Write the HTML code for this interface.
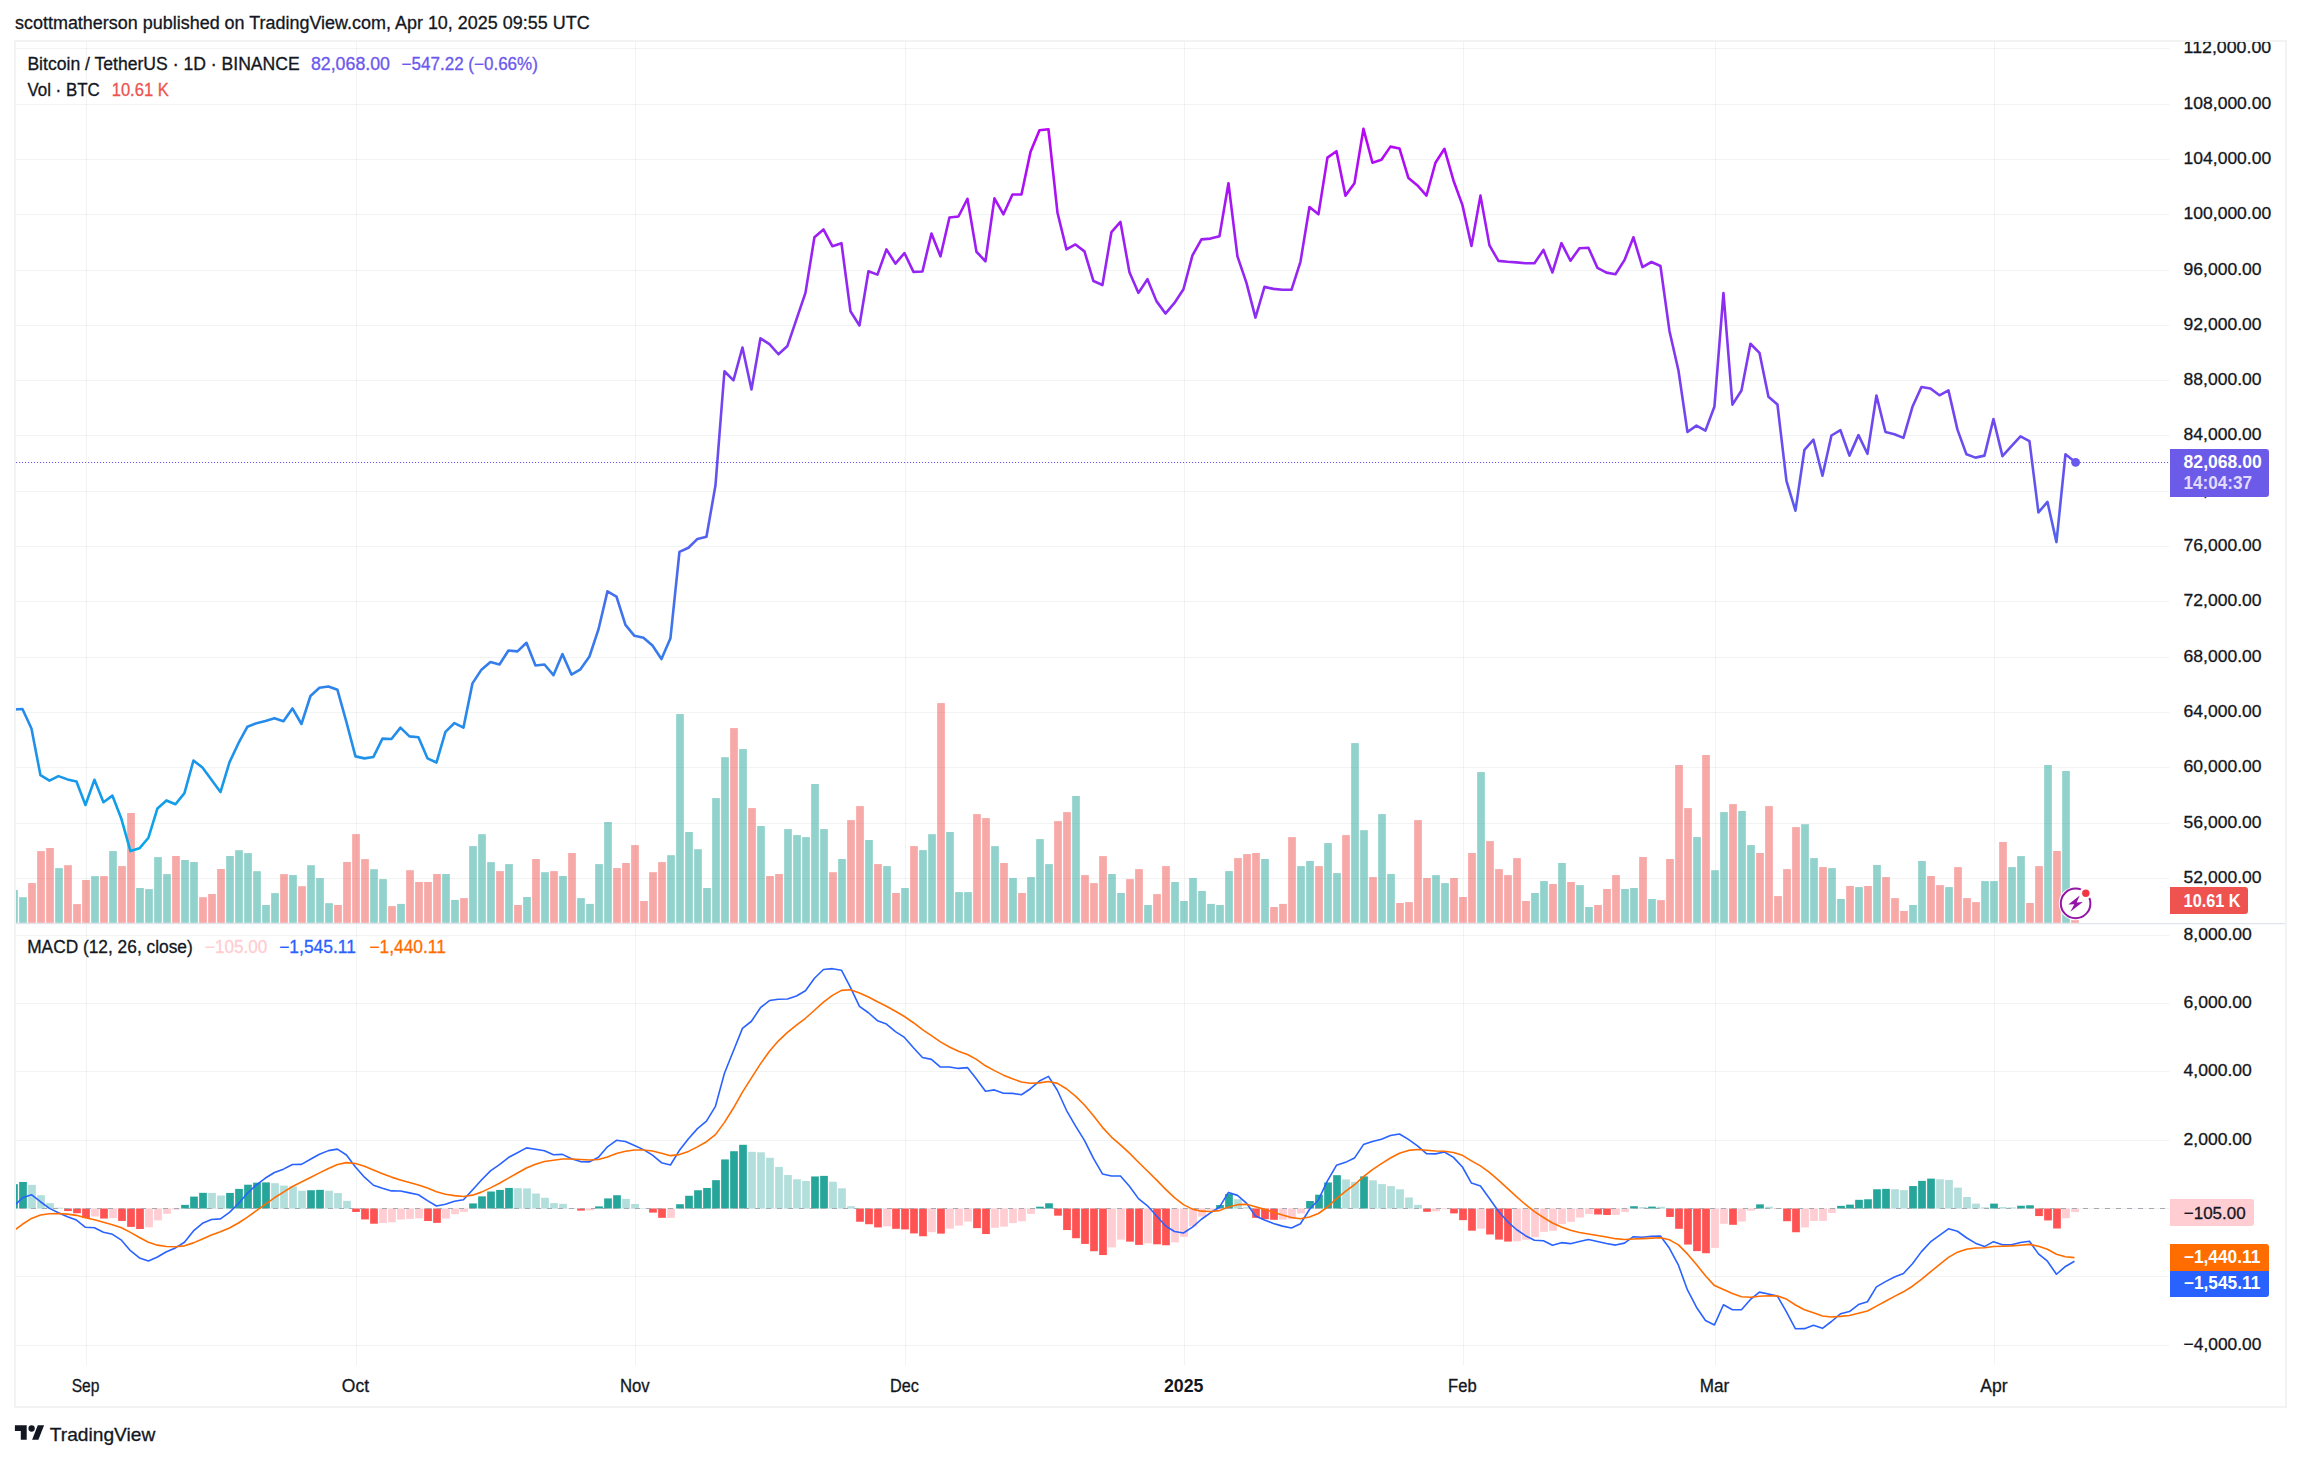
<!DOCTYPE html>
<html lang="en"><head><meta charset="utf-8"><title>BTCUSDT chart</title>
<style>html,body{margin:0;padding:0;background:#fff}body{width:2301px;height:1460px;overflow:hidden}svg{display:block}</style></head>
<body>
<svg width="2301" height="1460" viewBox="0 0 2301 1460" font-family="Liberation Sans, Arial, sans-serif">
<defs><linearGradient id="pg" gradientUnits="userSpaceOnUse" x1="0" y1="129" x2="0" y2="851"><stop offset="0" stop-color="#b905f5"/><stop offset="1" stop-color="#06a8e8"/></linearGradient>
<clipPath id="cp"><rect x="15.3" y="42" width="2153.7" height="1322.5"/></clipPath><clipPath id="ca"><rect x="2169" y="42" width="116" height="1322"/></clipPath></defs>
<rect width="2301" height="1460" fill="#fff"/>
<text x="15" y="28.8" font-size="18" fill="#131722" stroke="#131722" stroke-width="0.3" textLength="574.6" lengthAdjust="spacingAndGlyphs" >scottmatherson published on TradingView.com, Apr 10, 2025 09:55 UTC</text>
<g stroke="rgba(42,46,57,0.06)" stroke-width="1" shape-rendering="crispEdges">
<line x1="16" x2="2169.0" y1="48.5" y2="48.5"/>
<line x1="16" x2="2169.0" y1="104.5" y2="104.5"/>
<line x1="16" x2="2169.0" y1="159.5" y2="159.5"/>
<line x1="16" x2="2169.0" y1="214.5" y2="214.5"/>
<line x1="16" x2="2169.0" y1="270.5" y2="270.5"/>
<line x1="16" x2="2169.0" y1="325.5" y2="325.5"/>
<line x1="16" x2="2169.0" y1="380.5" y2="380.5"/>
<line x1="16" x2="2169.0" y1="435.5" y2="435.5"/>
<line x1="16" x2="2169.0" y1="491.5" y2="491.5"/>
<line x1="16" x2="2169.0" y1="546.5" y2="546.5"/>
<line x1="16" x2="2169.0" y1="601.5" y2="601.5"/>
<line x1="16" x2="2169.0" y1="657.5" y2="657.5"/>
<line x1="16" x2="2169.0" y1="712.5" y2="712.5"/>
<line x1="16" x2="2169.0" y1="767.5" y2="767.5"/>
<line x1="16" x2="2169.0" y1="823.5" y2="823.5"/>
<line x1="16" x2="2169.0" y1="878.5" y2="878.5"/>
<line x1="16" x2="2169.0" y1="935.5" y2="935.5"/>
<line x1="16" x2="2169.0" y1="1003.5" y2="1003.5"/>
<line x1="16" x2="2169.0" y1="1071.5" y2="1071.5"/>
<line x1="16" x2="2169.0" y1="1140.5" y2="1140.5"/>
<line x1="16" x2="2169.0" y1="1208.5" y2="1208.5"/>
<line x1="16" x2="2169.0" y1="1276.5" y2="1276.5"/>
<line x1="16" x2="2169.0" y1="1345.5" y2="1345.5"/>
<line x1="86.5" x2="86.5" y1="42" y2="1364.5"/>
<line x1="356.5" x2="356.5" y1="42" y2="1364.5"/>
<line x1="635.5" x2="635.5" y1="42" y2="1364.5"/>
<line x1="905.5" x2="905.5" y1="42" y2="1364.5"/>
<line x1="1184.5" x2="1184.5" y1="42" y2="1364.5"/>
<line x1="1463.5" x2="1463.5" y1="42" y2="1364.5"/>
<line x1="1715.5" x2="1715.5" y1="42" y2="1364.5"/>
<line x1="1994.5" x2="1994.5" y1="42" y2="1364.5"/>
</g>
<g clip-path="url(#cp)">
<rect x="10.15" y="890.0" width="7.7" height="32.8" fill="rgba(38,166,154,0.5)"/>
<rect x="19.15" y="897.2" width="7.7" height="25.6" fill="rgba(38,166,154,0.5)"/>
<rect x="28.15" y="883.1" width="7.7" height="39.7" fill="rgba(239,83,80,0.5)"/>
<rect x="37.15" y="851.1" width="7.7" height="71.7" fill="rgba(239,83,80,0.5)"/>
<rect x="46.15" y="848.0" width="7.7" height="74.8" fill="rgba(239,83,80,0.5)"/>
<rect x="55.15" y="868.1" width="7.7" height="54.7" fill="rgba(38,166,154,0.5)"/>
<rect x="64.15" y="865.2" width="7.7" height="57.6" fill="rgba(239,83,80,0.5)"/>
<rect x="73.15" y="904.1" width="7.7" height="18.7" fill="rgba(239,83,80,0.5)"/>
<rect x="82.15" y="880.0" width="7.7" height="42.8" fill="rgba(239,83,80,0.5)"/>
<rect x="91.15" y="876.1" width="7.7" height="46.7" fill="rgba(38,166,154,0.5)"/>
<rect x="100.15" y="876.1" width="7.7" height="46.7" fill="rgba(239,83,80,0.5)"/>
<rect x="109.15" y="851.1" width="7.7" height="71.7" fill="rgba(38,166,154,0.5)"/>
<rect x="118.15" y="866.1" width="7.7" height="56.7" fill="rgba(239,83,80,0.5)"/>
<rect x="127.15" y="813.0" width="7.7" height="109.8" fill="rgba(239,83,80,0.5)"/>
<rect x="136.15" y="888.0" width="7.7" height="34.8" fill="rgba(38,166,154,0.5)"/>
<rect x="145.15" y="889.1" width="7.7" height="33.7" fill="rgba(38,166,154,0.5)"/>
<rect x="154.15" y="857.1" width="7.7" height="65.7" fill="rgba(38,166,154,0.5)"/>
<rect x="163.15" y="874.1" width="7.7" height="48.7" fill="rgba(38,166,154,0.5)"/>
<rect x="172.15" y="856.0" width="7.7" height="66.8" fill="rgba(239,83,80,0.5)"/>
<rect x="181.15" y="860.0" width="7.7" height="62.8" fill="rgba(38,166,154,0.5)"/>
<rect x="190.15" y="862.0" width="7.7" height="60.8" fill="rgba(38,166,154,0.5)"/>
<rect x="199.15" y="897.2" width="7.7" height="25.6" fill="rgba(239,83,80,0.5)"/>
<rect x="208.15" y="894.0" width="7.7" height="28.8" fill="rgba(239,83,80,0.5)"/>
<rect x="217.15" y="869.0" width="7.7" height="53.8" fill="rgba(239,83,80,0.5)"/>
<rect x="226.15" y="856.0" width="7.7" height="66.8" fill="rgba(38,166,154,0.5)"/>
<rect x="235.15" y="850.2" width="7.7" height="72.6" fill="rgba(38,166,154,0.5)"/>
<rect x="244.15" y="853.1" width="7.7" height="69.7" fill="rgba(38,166,154,0.5)"/>
<rect x="253.15" y="871.2" width="7.7" height="51.6" fill="rgba(38,166,154,0.5)"/>
<rect x="262.15" y="905.0" width="7.7" height="17.8" fill="rgba(38,166,154,0.5)"/>
<rect x="271.15" y="893.1" width="7.7" height="29.7" fill="rgba(38,166,154,0.5)"/>
<rect x="280.15" y="874.1" width="7.7" height="48.7" fill="rgba(239,83,80,0.5)"/>
<rect x="289.15" y="875.0" width="7.7" height="47.8" fill="rgba(38,166,154,0.5)"/>
<rect x="298.15" y="886.2" width="7.7" height="36.6" fill="rgba(239,83,80,0.5)"/>
<rect x="307.15" y="865.2" width="7.7" height="57.6" fill="rgba(38,166,154,0.5)"/>
<rect x="316.15" y="878.1" width="7.7" height="44.7" fill="rgba(38,166,154,0.5)"/>
<rect x="325.15" y="903.2" width="7.7" height="19.6" fill="rgba(38,166,154,0.5)"/>
<rect x="334.15" y="905.0" width="7.7" height="17.8" fill="rgba(239,83,80,0.5)"/>
<rect x="343.15" y="862.0" width="7.7" height="60.8" fill="rgba(239,83,80,0.5)"/>
<rect x="352.15" y="834.1" width="7.7" height="88.7" fill="rgba(239,83,80,0.5)"/>
<rect x="361.15" y="859.1" width="7.7" height="63.7" fill="rgba(239,83,80,0.5)"/>
<rect x="370.15" y="869.2" width="7.7" height="53.6" fill="rgba(38,166,154,0.5)"/>
<rect x="379.15" y="879.1" width="7.7" height="43.7" fill="rgba(38,166,154,0.5)"/>
<rect x="388.15" y="906.1" width="7.7" height="16.7" fill="rgba(239,83,80,0.5)"/>
<rect x="397.15" y="903.9" width="7.7" height="18.9" fill="rgba(38,166,154,0.5)"/>
<rect x="406.15" y="870.2" width="7.7" height="52.6" fill="rgba(239,83,80,0.5)"/>
<rect x="415.15" y="882.0" width="7.7" height="40.8" fill="rgba(239,83,80,0.5)"/>
<rect x="424.15" y="882.0" width="7.7" height="40.8" fill="rgba(239,83,80,0.5)"/>
<rect x="433.15" y="874.0" width="7.7" height="48.8" fill="rgba(239,83,80,0.5)"/>
<rect x="442.15" y="874.0" width="7.7" height="48.8" fill="rgba(38,166,154,0.5)"/>
<rect x="451.15" y="899.9" width="7.7" height="22.9" fill="rgba(38,166,154,0.5)"/>
<rect x="460.15" y="898.1" width="7.7" height="24.7" fill="rgba(239,83,80,0.5)"/>
<rect x="469.15" y="846.1" width="7.7" height="76.7" fill="rgba(38,166,154,0.5)"/>
<rect x="478.15" y="834.2" width="7.7" height="88.6" fill="rgba(38,166,154,0.5)"/>
<rect x="487.15" y="862.1" width="7.7" height="60.7" fill="rgba(38,166,154,0.5)"/>
<rect x="496.15" y="871.1" width="7.7" height="51.7" fill="rgba(239,83,80,0.5)"/>
<rect x="505.15" y="864.1" width="7.7" height="58.7" fill="rgba(38,166,154,0.5)"/>
<rect x="514.15" y="905.0" width="7.7" height="17.8" fill="rgba(239,83,80,0.5)"/>
<rect x="523.15" y="897.0" width="7.7" height="25.8" fill="rgba(38,166,154,0.5)"/>
<rect x="532.15" y="859.0" width="7.7" height="63.8" fill="rgba(239,83,80,0.5)"/>
<rect x="541.15" y="872.2" width="7.7" height="50.6" fill="rgba(38,166,154,0.5)"/>
<rect x="550.15" y="871.1" width="7.7" height="51.7" fill="rgba(239,83,80,0.5)"/>
<rect x="559.15" y="876.0" width="7.7" height="46.8" fill="rgba(38,166,154,0.5)"/>
<rect x="568.15" y="853.0" width="7.7" height="69.8" fill="rgba(239,83,80,0.5)"/>
<rect x="577.15" y="898.1" width="7.7" height="24.7" fill="rgba(38,166,154,0.5)"/>
<rect x="586.15" y="903.9" width="7.7" height="18.9" fill="rgba(38,166,154,0.5)"/>
<rect x="595.15" y="864.1" width="7.7" height="58.7" fill="rgba(38,166,154,0.5)"/>
<rect x="604.15" y="822.0" width="7.7" height="100.8" fill="rgba(38,166,154,0.5)"/>
<rect x="613.15" y="868.1" width="7.7" height="54.7" fill="rgba(239,83,80,0.5)"/>
<rect x="622.15" y="863.0" width="7.7" height="59.8" fill="rgba(239,83,80,0.5)"/>
<rect x="631.15" y="845.1" width="7.7" height="77.7" fill="rgba(239,83,80,0.5)"/>
<rect x="640.15" y="901.0" width="7.7" height="21.8" fill="rgba(239,83,80,0.5)"/>
<rect x="649.15" y="872.2" width="7.7" height="50.6" fill="rgba(239,83,80,0.5)"/>
<rect x="658.15" y="862.1" width="7.7" height="60.7" fill="rgba(239,83,80,0.5)"/>
<rect x="667.15" y="855.2" width="7.7" height="67.6" fill="rgba(38,166,154,0.5)"/>
<rect x="676.15" y="714.1" width="7.7" height="208.7" fill="rgba(38,166,154,0.5)"/>
<rect x="685.15" y="832.0" width="7.7" height="90.8" fill="rgba(38,166,154,0.5)"/>
<rect x="694.15" y="849.2" width="7.7" height="73.6" fill="rgba(38,166,154,0.5)"/>
<rect x="703.15" y="888.0" width="7.7" height="34.8" fill="rgba(38,166,154,0.5)"/>
<rect x="712.15" y="798.1" width="7.7" height="124.7" fill="rgba(38,166,154,0.5)"/>
<rect x="721.15" y="757.2" width="7.7" height="165.6" fill="rgba(38,166,154,0.5)"/>
<rect x="730.15" y="728.1" width="7.7" height="194.7" fill="rgba(239,83,80,0.5)"/>
<rect x="739.15" y="749.1" width="7.7" height="173.7" fill="rgba(38,166,154,0.5)"/>
<rect x="748.15" y="808.1" width="7.7" height="114.7" fill="rgba(239,83,80,0.5)"/>
<rect x="757.15" y="826.0" width="7.7" height="96.8" fill="rgba(38,166,154,0.5)"/>
<rect x="766.15" y="876.0" width="7.7" height="46.8" fill="rgba(239,83,80,0.5)"/>
<rect x="775.15" y="874.0" width="7.7" height="48.8" fill="rgba(239,83,80,0.5)"/>
<rect x="784.15" y="829.1" width="7.7" height="93.7" fill="rgba(38,166,154,0.5)"/>
<rect x="793.15" y="835.1" width="7.7" height="87.7" fill="rgba(38,166,154,0.5)"/>
<rect x="802.15" y="837.1" width="7.7" height="85.7" fill="rgba(38,166,154,0.5)"/>
<rect x="811.15" y="784.0" width="7.7" height="138.8" fill="rgba(38,166,154,0.5)"/>
<rect x="820.15" y="829.1" width="7.7" height="93.7" fill="rgba(38,166,154,0.5)"/>
<rect x="829.15" y="872.2" width="7.7" height="50.6" fill="rgba(239,83,80,0.5)"/>
<rect x="838.15" y="859.0" width="7.7" height="63.8" fill="rgba(38,166,154,0.5)"/>
<rect x="847.15" y="820.1" width="7.7" height="102.7" fill="rgba(239,83,80,0.5)"/>
<rect x="856.15" y="806.1" width="7.7" height="116.7" fill="rgba(239,83,80,0.5)"/>
<rect x="865.15" y="840.0" width="7.7" height="82.8" fill="rgba(38,166,154,0.5)"/>
<rect x="874.15" y="864.1" width="7.7" height="58.7" fill="rgba(239,83,80,0.5)"/>
<rect x="883.15" y="866.1" width="7.7" height="56.7" fill="rgba(38,166,154,0.5)"/>
<rect x="892.15" y="893.0" width="7.7" height="29.8" fill="rgba(239,83,80,0.5)"/>
<rect x="901.15" y="888.0" width="7.7" height="34.8" fill="rgba(38,166,154,0.5)"/>
<rect x="910.15" y="846.1" width="7.7" height="76.7" fill="rgba(239,83,80,0.5)"/>
<rect x="919.15" y="850.1" width="7.7" height="72.7" fill="rgba(38,166,154,0.5)"/>
<rect x="928.15" y="834.2" width="7.7" height="88.6" fill="rgba(38,166,154,0.5)"/>
<rect x="937.15" y="703.1" width="7.7" height="219.7" fill="rgba(239,83,80,0.5)"/>
<rect x="946.15" y="832.0" width="7.7" height="90.8" fill="rgba(38,166,154,0.5)"/>
<rect x="955.15" y="892.1" width="7.7" height="30.7" fill="rgba(38,166,154,0.5)"/>
<rect x="964.15" y="892.1" width="7.7" height="30.7" fill="rgba(38,166,154,0.5)"/>
<rect x="973.15" y="814.1" width="7.7" height="108.7" fill="rgba(239,83,80,0.5)"/>
<rect x="982.15" y="818.1" width="7.7" height="104.7" fill="rgba(239,83,80,0.5)"/>
<rect x="991.15" y="846.1" width="7.7" height="76.7" fill="rgba(38,166,154,0.5)"/>
<rect x="1000.15" y="863.0" width="7.7" height="59.8" fill="rgba(239,83,80,0.5)"/>
<rect x="1009.15" y="878.0" width="7.7" height="44.8" fill="rgba(38,166,154,0.5)"/>
<rect x="1018.15" y="893.0" width="7.7" height="29.8" fill="rgba(239,83,80,0.5)"/>
<rect x="1027.15" y="877.1" width="7.7" height="45.7" fill="rgba(38,166,154,0.5)"/>
<rect x="1036.15" y="839.1" width="7.7" height="83.7" fill="rgba(38,166,154,0.5)"/>
<rect x="1045.15" y="864.1" width="7.7" height="58.7" fill="rgba(38,166,154,0.5)"/>
<rect x="1054.15" y="821.1" width="7.7" height="101.7" fill="rgba(239,83,80,0.5)"/>
<rect x="1063.15" y="812.1" width="7.7" height="110.7" fill="rgba(239,83,80,0.5)"/>
<rect x="1072.15" y="796.0" width="7.7" height="126.8" fill="rgba(38,166,154,0.5)"/>
<rect x="1081.15" y="875.1" width="7.7" height="47.7" fill="rgba(239,83,80,0.5)"/>
<rect x="1090.15" y="883.1" width="7.7" height="39.7" fill="rgba(239,83,80,0.5)"/>
<rect x="1099.15" y="856.1" width="7.7" height="66.7" fill="rgba(239,83,80,0.5)"/>
<rect x="1108.15" y="874.0" width="7.7" height="48.8" fill="rgba(38,166,154,0.5)"/>
<rect x="1117.15" y="893.0" width="7.7" height="29.8" fill="rgba(38,166,154,0.5)"/>
<rect x="1126.15" y="879.1" width="7.7" height="43.7" fill="rgba(239,83,80,0.5)"/>
<rect x="1135.15" y="869.1" width="7.7" height="53.7" fill="rgba(239,83,80,0.5)"/>
<rect x="1144.15" y="905.0" width="7.7" height="17.8" fill="rgba(38,166,154,0.5)"/>
<rect x="1153.15" y="894.1" width="7.7" height="28.7" fill="rgba(239,83,80,0.5)"/>
<rect x="1162.15" y="866.1" width="7.7" height="56.7" fill="rgba(239,83,80,0.5)"/>
<rect x="1171.15" y="882.0" width="7.7" height="40.8" fill="rgba(38,166,154,0.5)"/>
<rect x="1180.15" y="901.0" width="7.7" height="21.8" fill="rgba(38,166,154,0.5)"/>
<rect x="1189.15" y="878.0" width="7.7" height="44.8" fill="rgba(38,166,154,0.5)"/>
<rect x="1198.15" y="891.0" width="7.7" height="31.8" fill="rgba(38,166,154,0.5)"/>
<rect x="1207.15" y="903.9" width="7.7" height="18.9" fill="rgba(38,166,154,0.5)"/>
<rect x="1216.15" y="905.0" width="7.7" height="17.8" fill="rgba(38,166,154,0.5)"/>
<rect x="1225.15" y="871.1" width="7.7" height="51.7" fill="rgba(38,166,154,0.5)"/>
<rect x="1234.15" y="858.1" width="7.7" height="64.7" fill="rgba(239,83,80,0.5)"/>
<rect x="1243.15" y="854.1" width="7.7" height="68.7" fill="rgba(239,83,80,0.5)"/>
<rect x="1252.15" y="853.0" width="7.7" height="69.8" fill="rgba(239,83,80,0.5)"/>
<rect x="1261.15" y="859.0" width="7.7" height="63.8" fill="rgba(38,166,154,0.5)"/>
<rect x="1270.15" y="907.0" width="7.7" height="15.8" fill="rgba(239,83,80,0.5)"/>
<rect x="1279.15" y="903.9" width="7.7" height="18.9" fill="rgba(239,83,80,0.5)"/>
<rect x="1288.15" y="837.1" width="7.7" height="85.7" fill="rgba(239,83,80,0.5)"/>
<rect x="1297.15" y="866.1" width="7.7" height="56.7" fill="rgba(38,166,154,0.5)"/>
<rect x="1306.15" y="861.0" width="7.7" height="61.8" fill="rgba(38,166,154,0.5)"/>
<rect x="1315.15" y="866.1" width="7.7" height="56.7" fill="rgba(239,83,80,0.5)"/>
<rect x="1324.15" y="843.1" width="7.7" height="79.7" fill="rgba(38,166,154,0.5)"/>
<rect x="1333.15" y="873.1" width="7.7" height="49.7" fill="rgba(38,166,154,0.5)"/>
<rect x="1342.15" y="835.1" width="7.7" height="87.7" fill="rgba(239,83,80,0.5)"/>
<rect x="1351.15" y="743.1" width="7.7" height="179.7" fill="rgba(38,166,154,0.5)"/>
<rect x="1360.15" y="830.2" width="7.7" height="92.6" fill="rgba(38,166,154,0.5)"/>
<rect x="1369.15" y="877.1" width="7.7" height="45.7" fill="rgba(239,83,80,0.5)"/>
<rect x="1378.15" y="814.1" width="7.7" height="108.7" fill="rgba(38,166,154,0.5)"/>
<rect x="1387.15" y="874.0" width="7.7" height="48.8" fill="rgba(38,166,154,0.5)"/>
<rect x="1396.15" y="903.0" width="7.7" height="19.8" fill="rgba(239,83,80,0.5)"/>
<rect x="1405.15" y="902.1" width="7.7" height="20.7" fill="rgba(239,83,80,0.5)"/>
<rect x="1414.15" y="820.1" width="7.7" height="102.7" fill="rgba(239,83,80,0.5)"/>
<rect x="1423.15" y="878.0" width="7.7" height="44.8" fill="rgba(239,83,80,0.5)"/>
<rect x="1432.15" y="875.1" width="7.7" height="47.7" fill="rgba(38,166,154,0.5)"/>
<rect x="1441.15" y="883.1" width="7.7" height="39.7" fill="rgba(38,166,154,0.5)"/>
<rect x="1450.15" y="878.0" width="7.7" height="44.8" fill="rgba(239,83,80,0.5)"/>
<rect x="1459.15" y="897.0" width="7.7" height="25.8" fill="rgba(239,83,80,0.5)"/>
<rect x="1468.15" y="853.0" width="7.7" height="69.8" fill="rgba(239,83,80,0.5)"/>
<rect x="1477.15" y="772.1" width="7.7" height="150.7" fill="rgba(38,166,154,0.5)"/>
<rect x="1486.15" y="841.1" width="7.7" height="81.7" fill="rgba(239,83,80,0.5)"/>
<rect x="1495.15" y="869.1" width="7.7" height="53.7" fill="rgba(239,83,80,0.5)"/>
<rect x="1504.15" y="875.1" width="7.7" height="47.7" fill="rgba(239,83,80,0.5)"/>
<rect x="1513.15" y="858.1" width="7.7" height="64.7" fill="rgba(239,83,80,0.5)"/>
<rect x="1522.15" y="901.0" width="7.7" height="21.8" fill="rgba(239,83,80,0.5)"/>
<rect x="1531.15" y="893.0" width="7.7" height="29.8" fill="rgba(38,166,154,0.5)"/>
<rect x="1540.15" y="881.1" width="7.7" height="41.7" fill="rgba(38,166,154,0.5)"/>
<rect x="1549.15" y="884.0" width="7.7" height="38.8" fill="rgba(239,83,80,0.5)"/>
<rect x="1558.15" y="863.0" width="7.7" height="59.8" fill="rgba(38,166,154,0.5)"/>
<rect x="1567.15" y="882.0" width="7.7" height="40.8" fill="rgba(239,83,80,0.5)"/>
<rect x="1576.15" y="885.1" width="7.7" height="37.7" fill="rgba(38,166,154,0.5)"/>
<rect x="1585.15" y="907.0" width="7.7" height="15.8" fill="rgba(38,166,154,0.5)"/>
<rect x="1594.15" y="905.0" width="7.7" height="17.8" fill="rgba(239,83,80,0.5)"/>
<rect x="1603.15" y="889.0" width="7.7" height="33.8" fill="rgba(239,83,80,0.5)"/>
<rect x="1612.15" y="875.1" width="7.7" height="47.7" fill="rgba(239,83,80,0.5)"/>
<rect x="1621.15" y="889.0" width="7.7" height="33.8" fill="rgba(38,166,154,0.5)"/>
<rect x="1630.15" y="888.0" width="7.7" height="34.8" fill="rgba(38,166,154,0.5)"/>
<rect x="1639.15" y="857.0" width="7.7" height="65.8" fill="rgba(239,83,80,0.5)"/>
<rect x="1648.15" y="899.0" width="7.7" height="23.8" fill="rgba(38,166,154,0.5)"/>
<rect x="1657.15" y="900.1" width="7.7" height="22.7" fill="rgba(239,83,80,0.5)"/>
<rect x="1666.15" y="859.0" width="7.7" height="63.8" fill="rgba(239,83,80,0.5)"/>
<rect x="1675.15" y="765.0" width="7.7" height="157.8" fill="rgba(239,83,80,0.5)"/>
<rect x="1684.15" y="808.1" width="7.7" height="114.7" fill="rgba(239,83,80,0.5)"/>
<rect x="1693.15" y="837.1" width="7.7" height="85.7" fill="rgba(38,166,154,0.5)"/>
<rect x="1702.15" y="755.0" width="7.7" height="167.8" fill="rgba(239,83,80,0.5)"/>
<rect x="1711.15" y="870.2" width="7.7" height="52.6" fill="rgba(38,166,154,0.5)"/>
<rect x="1720.15" y="812.1" width="7.7" height="110.7" fill="rgba(38,166,154,0.5)"/>
<rect x="1729.15" y="804.1" width="7.7" height="118.7" fill="rgba(239,83,80,0.5)"/>
<rect x="1738.15" y="811.0" width="7.7" height="111.8" fill="rgba(38,166,154,0.5)"/>
<rect x="1747.15" y="845.1" width="7.7" height="77.7" fill="rgba(38,166,154,0.5)"/>
<rect x="1756.15" y="853.0" width="7.7" height="69.8" fill="rgba(239,83,80,0.5)"/>
<rect x="1765.15" y="806.1" width="7.7" height="116.7" fill="rgba(239,83,80,0.5)"/>
<rect x="1774.15" y="896.1" width="7.7" height="26.7" fill="rgba(239,83,80,0.5)"/>
<rect x="1783.15" y="869.1" width="7.7" height="53.7" fill="rgba(239,83,80,0.5)"/>
<rect x="1792.15" y="827.1" width="7.7" height="95.7" fill="rgba(239,83,80,0.5)"/>
<rect x="1801.15" y="824.2" width="7.7" height="98.6" fill="rgba(38,166,154,0.5)"/>
<rect x="1810.15" y="858.1" width="7.7" height="64.7" fill="rgba(38,166,154,0.5)"/>
<rect x="1819.15" y="867.1" width="7.7" height="55.7" fill="rgba(239,83,80,0.5)"/>
<rect x="1828.15" y="868.1" width="7.7" height="54.7" fill="rgba(38,166,154,0.5)"/>
<rect x="1837.15" y="899.0" width="7.7" height="23.8" fill="rgba(38,166,154,0.5)"/>
<rect x="1846.15" y="886.0" width="7.7" height="36.8" fill="rgba(239,83,80,0.5)"/>
<rect x="1855.15" y="887.1" width="7.7" height="35.7" fill="rgba(38,166,154,0.5)"/>
<rect x="1864.15" y="886.0" width="7.7" height="36.8" fill="rgba(239,83,80,0.5)"/>
<rect x="1873.15" y="865.0" width="7.7" height="57.8" fill="rgba(38,166,154,0.5)"/>
<rect x="1882.15" y="877.1" width="7.7" height="45.7" fill="rgba(239,83,80,0.5)"/>
<rect x="1891.15" y="898.1" width="7.7" height="24.7" fill="rgba(239,83,80,0.5)"/>
<rect x="1900.15" y="911.0" width="7.7" height="11.8" fill="rgba(239,83,80,0.5)"/>
<rect x="1909.15" y="905.0" width="7.7" height="17.8" fill="rgba(38,166,154,0.5)"/>
<rect x="1918.15" y="861.0" width="7.7" height="61.8" fill="rgba(38,166,154,0.5)"/>
<rect x="1927.15" y="876.0" width="7.7" height="46.8" fill="rgba(239,83,80,0.5)"/>
<rect x="1936.15" y="885.1" width="7.7" height="37.7" fill="rgba(239,83,80,0.5)"/>
<rect x="1945.15" y="887.1" width="7.7" height="35.7" fill="rgba(38,166,154,0.5)"/>
<rect x="1954.15" y="867.1" width="7.7" height="55.7" fill="rgba(239,83,80,0.5)"/>
<rect x="1963.15" y="898.1" width="7.7" height="24.7" fill="rgba(239,83,80,0.5)"/>
<rect x="1972.15" y="902.1" width="7.7" height="20.7" fill="rgba(239,83,80,0.5)"/>
<rect x="1981.15" y="881.1" width="7.7" height="41.7" fill="rgba(38,166,154,0.5)"/>
<rect x="1990.15" y="881.1" width="7.7" height="41.7" fill="rgba(38,166,154,0.5)"/>
<rect x="1999.15" y="842.0" width="7.7" height="80.8" fill="rgba(239,83,80,0.5)"/>
<rect x="2008.15" y="867.1" width="7.7" height="55.7" fill="rgba(38,166,154,0.5)"/>
<rect x="2017.15" y="856.1" width="7.7" height="66.7" fill="rgba(38,166,154,0.5)"/>
<rect x="2026.15" y="903.0" width="7.7" height="19.8" fill="rgba(239,83,80,0.5)"/>
<rect x="2035.15" y="866.1" width="7.7" height="56.7" fill="rgba(239,83,80,0.5)"/>
<rect x="2044.15" y="765.0" width="7.7" height="157.8" fill="rgba(38,166,154,0.5)"/>
<rect x="2053.15" y="851.0" width="7.7" height="71.8" fill="rgba(239,83,80,0.5)"/>
<rect x="2062.15" y="771.0" width="7.7" height="151.8" fill="rgba(38,166,154,0.5)"/>
<rect x="2071.15" y="920.1" width="7.7" height="2.7" fill="rgba(239,83,80,0.5)"/>
<line x1="16" x2="2169.0" y1="462.5" y2="462.5" stroke="#6b58ed" stroke-width="1.1" stroke-dasharray="1.1 1.9"/>
<polyline points="13.45,709.55 22.45,709.00 31.45,728.57 40.45,775.19 49.45,780.68 58.45,776.11 67.45,779.40 76.45,781.59 85.45,805.00 94.45,779.77 103.45,802.26 112.45,795.67 121.45,819.08 130.45,851.08 139.45,848.33 148.45,837.73 157.45,808.47 166.45,800.43 175.45,804.27 184.45,793.11 193.45,760.57 202.45,767.52 211.45,779.77 220.45,792.02 229.45,762.40 238.45,743.20 247.45,726.74 256.45,723.27 265.45,721.07 274.45,718.15 283.45,721.25 292.45,708.45 301.45,724.00 310.45,696.02 319.45,687.79 328.45,686.51 337.45,689.80 346.45,722.17 355.45,756.36 364.45,758.37 373.45,756.91 382.45,738.62 391.45,738.99 400.45,727.62 409.45,736.39 418.45,737.31 427.45,758.33 436.45,762.54 445.45,731.82 454.45,723.04 463.45,727.62 472.45,683.37 481.45,669.65 490.45,661.97 499.45,664.53 508.45,650.45 517.45,651.37 526.45,642.77 535.45,665.45 544.45,664.53 553.45,675.14 562.45,654.11 571.45,674.59 580.45,669.29 589.45,656.49 598.45,629.43 607.45,591.39 616.45,596.51 625.45,624.85 634.45,635.83 643.45,637.65 652.45,645.52 661.45,659.05 670.45,638.20 679.45,551.91 688.45,547.70 697.45,538.93 706.45,536.73 715.45,485.53 724.45,371.25 733.45,380.40 742.45,347.48 751.45,389.54 760.45,338.34 769.45,344.19 778.45,354.25 787.45,345.93 796.45,319.42 805.45,292.91 814.45,237.14 823.45,229.46 832.45,246.28 841.45,243.17 850.45,311.19 859.45,325.45 868.45,271.33 877.45,274.62 886.45,249.39 895.45,263.65 904.45,253.04 913.45,271.88 922.45,271.51 931.45,233.48 940.45,256.34 949.45,217.57 958.45,216.47 967.45,198.74 976.45,251.76 985.45,261.27 994.45,198.37 1003.45,214.28 1012.45,194.53 1021.45,194.53 1030.45,152.11 1039.45,130.17 1048.45,129.26 1057.45,212.45 1066.45,249.39 1075.45,244.45 1084.45,251.40 1093.45,281.02 1102.45,285.04 1111.45,232.02 1120.45,221.96 1129.45,272.24 1138.45,292.91 1147.45,279.19 1156.45,301.13 1165.45,313.57 1174.45,302.96 1183.45,289.25 1192.45,255.42 1201.45,239.33 1210.45,238.60 1219.45,236.22 1228.45,183.20 1237.45,256.34 1246.45,282.85 1255.45,317.59 1264.45,286.87 1273.45,288.88 1282.45,289.80 1291.45,289.80 1300.45,261.82 1309.45,206.97 1318.45,214.28 1327.45,157.60 1336.45,151.20 1345.45,195.63 1354.45,183.20 1363.45,128.89 1372.45,162.72 1381.45,159.79 1390.45,146.63 1399.45,148.45 1408.45,178.08 1417.45,185.39 1426.45,195.63 1435.45,162.72 1444.45,148.82 1453.45,180.45 1462.45,205.14 1471.45,245.91 1480.45,195.63 1489.45,245.36 1498.45,260.91 1507.45,261.82 1516.45,262.37 1525.45,263.28 1534.45,263.28 1543.45,249.94 1552.45,272.43 1561.45,243.17 1570.45,260.72 1579.45,248.28 1588.45,247.74 1597.45,267.85 1606.45,272.60 1615.45,274.25 1624.45,260.17 1633.45,237.31 1642.45,267.12 1651.45,262.00 1660.45,266.02 1669.45,330.93 1678.45,370.43 1687.45,432.05 1696.45,425.65 1705.45,430.59 1714.45,406.45 1723.45,293.08 1732.45,404.62 1741.45,390.54 1750.45,343.73 1759.45,352.86 1768.45,396.74 1777.45,404.60 1786.45,480.85 1795.45,510.65 1804.45,449.77 1813.45,439.71 1822.45,475.73 1831.45,435.50 1840.45,430.20 1849.45,455.62 1858.45,435.14 1867.45,453.79 1876.45,395.46 1885.45,432.03 1894.45,434.22 1903.45,437.88 1912.45,406.80 1921.45,387.05 1930.45,388.51 1939.45,395.28 1948.45,390.34 1957.45,429.65 1966.45,454.34 1975.45,457.63 1984.45,455.62 1993.45,419.05 2002.45,456.17 2011.45,446.11 2020.45,436.42 2029.45,441.17 2038.45,512.48 2047.45,501.88 2056.45,542.10 2065.45,454.34 2075.5,462.3" fill="none" stroke="url(#pg)" stroke-width="2.6" stroke-linejoin="round" stroke-linecap="round"/>
<circle cx="2075.6" cy="462.3" r="4.4" fill="#6b58ed"/>
<rect x="10.15" y="1184.19" width="7.7" height="24.31" fill="#26a69a"/>
<rect x="19.15" y="1181.94" width="7.7" height="26.56" fill="#26a69a"/>
<rect x="28.15" y="1184.86" width="7.7" height="23.64" fill="#b2dfdb"/>
<rect x="37.15" y="1195.19" width="7.7" height="13.31" fill="#b2dfdb"/>
<rect x="46.15" y="1203.17" width="7.7" height="5.33" fill="#b2dfdb"/>
<rect x="55.15" y="1207.68" width="7.7" height="0.82" fill="#b2dfdb"/>
<rect x="64.15" y="1208.50" width="7.7" height="2.52" fill="#ff5252"/>
<rect x="73.15" y="1208.50" width="7.7" height="4.78" fill="#ff5252"/>
<rect x="82.15" y="1208.50" width="7.7" height="9.57" fill="#ff5252"/>
<rect x="91.15" y="1208.50" width="7.7" height="8.01" fill="#ffcdd2"/>
<rect x="100.15" y="1208.50" width="7.7" height="10.05" fill="#ff5252"/>
<rect x="109.15" y="1208.50" width="7.7" height="9.65" fill="#ffcdd2"/>
<rect x="118.15" y="1208.50" width="7.7" height="12.42" fill="#ff5252"/>
<rect x="127.15" y="1208.50" width="7.7" height="18.38" fill="#ff5252"/>
<rect x="136.15" y="1208.50" width="7.7" height="20.50" fill="#ff5252"/>
<rect x="145.15" y="1208.50" width="7.7" height="18.82" fill="#ffcdd2"/>
<rect x="154.15" y="1208.50" width="7.7" height="11.86" fill="#ffcdd2"/>
<rect x="163.15" y="1208.50" width="7.7" height="5.28" fill="#ffcdd2"/>
<rect x="172.15" y="1208.50" width="7.7" height="1.13" fill="#ffcdd2"/>
<rect x="181.15" y="1204.87" width="7.7" height="3.63" fill="#26a69a"/>
<rect x="190.15" y="1196.60" width="7.7" height="11.90" fill="#26a69a"/>
<rect x="199.15" y="1192.83" width="7.7" height="15.67" fill="#26a69a"/>
<rect x="208.15" y="1192.94" width="7.7" height="15.56" fill="#b2dfdb"/>
<rect x="217.15" y="1195.51" width="7.7" height="12.99" fill="#b2dfdb"/>
<rect x="226.15" y="1192.92" width="7.7" height="15.58" fill="#26a69a"/>
<rect x="235.15" y="1188.91" width="7.7" height="19.59" fill="#26a69a"/>
<rect x="244.15" y="1184.70" width="7.7" height="23.80" fill="#26a69a"/>
<rect x="253.15" y="1182.69" width="7.7" height="25.81" fill="#26a69a"/>
<rect x="262.15" y="1182.41" width="7.7" height="26.09" fill="#26a69a"/>
<rect x="271.15" y="1183.18" width="7.7" height="25.32" fill="#b2dfdb"/>
<rect x="280.15" y="1185.58" width="7.7" height="22.92" fill="#b2dfdb"/>
<rect x="289.15" y="1186.42" width="7.7" height="22.08" fill="#b2dfdb"/>
<rect x="298.15" y="1190.75" width="7.7" height="17.75" fill="#b2dfdb"/>
<rect x="307.15" y="1190.23" width="7.7" height="18.27" fill="#26a69a"/>
<rect x="316.15" y="1189.85" width="7.7" height="18.65" fill="#26a69a"/>
<rect x="325.15" y="1190.71" width="7.7" height="17.79" fill="#b2dfdb"/>
<rect x="334.15" y="1193.06" width="7.7" height="15.44" fill="#b2dfdb"/>
<rect x="343.15" y="1200.85" width="7.7" height="7.65" fill="#b2dfdb"/>
<rect x="352.15" y="1208.50" width="7.7" height="3.44" fill="#ff5252"/>
<rect x="361.15" y="1208.50" width="7.7" height="10.94" fill="#ff5252"/>
<rect x="370.15" y="1208.50" width="7.7" height="15.22" fill="#ff5252"/>
<rect x="379.15" y="1208.50" width="7.7" height="14.57" fill="#ffcdd2"/>
<rect x="388.15" y="1208.50" width="7.7" height="13.78" fill="#ffcdd2"/>
<rect x="397.15" y="1208.50" width="7.7" height="11.05" fill="#ffcdd2"/>
<rect x="406.15" y="1208.50" width="7.7" height="10.41" fill="#ffcdd2"/>
<rect x="415.15" y="1208.50" width="7.7" height="9.84" fill="#ffcdd2"/>
<rect x="424.15" y="1208.50" width="7.7" height="12.50" fill="#ff5252"/>
<rect x="433.15" y="1208.50" width="7.7" height="14.35" fill="#ff5252"/>
<rect x="442.15" y="1208.50" width="7.7" height="10.08" fill="#ffcdd2"/>
<rect x="451.15" y="1208.50" width="7.7" height="5.62" fill="#ffcdd2"/>
<rect x="460.15" y="1208.50" width="7.7" height="3.37" fill="#ffcdd2"/>
<rect x="469.15" y="1203.42" width="7.7" height="5.08" fill="#26a69a"/>
<rect x="478.15" y="1196.35" width="7.7" height="12.15" fill="#26a69a"/>
<rect x="487.15" y="1191.49" width="7.7" height="17.01" fill="#26a69a"/>
<rect x="496.15" y="1189.93" width="7.7" height="18.57" fill="#26a69a"/>
<rect x="505.15" y="1187.94" width="7.7" height="20.56" fill="#26a69a"/>
<rect x="514.15" y="1188.19" width="7.7" height="20.31" fill="#b2dfdb"/>
<rect x="523.15" y="1188.38" width="7.7" height="20.12" fill="#b2dfdb"/>
<rect x="532.15" y="1193.50" width="7.7" height="15.00" fill="#b2dfdb"/>
<rect x="541.15" y="1197.75" width="7.7" height="10.75" fill="#b2dfdb"/>
<rect x="550.15" y="1203.08" width="7.7" height="5.42" fill="#b2dfdb"/>
<rect x="559.15" y="1203.83" width="7.7" height="4.67" fill="#b2dfdb"/>
<rect x="568.15" y="1208.22" width="7.7" height="0.28" fill="#b2dfdb"/>
<rect x="577.15" y="1208.50" width="7.7" height="2.11" fill="#ff5252"/>
<rect x="586.15" y="1208.50" width="7.7" height="1.92" fill="#ffcdd2"/>
<rect x="595.15" y="1206.38" width="7.7" height="2.12" fill="#26a69a"/>
<rect x="604.15" y="1198.42" width="7.7" height="10.08" fill="#26a69a"/>
<rect x="613.15" y="1195.23" width="7.7" height="13.27" fill="#26a69a"/>
<rect x="622.15" y="1198.89" width="7.7" height="9.61" fill="#b2dfdb"/>
<rect x="631.15" y="1203.95" width="7.7" height="4.55" fill="#b2dfdb"/>
<rect x="640.15" y="1208.17" width="7.7" height="0.33" fill="#b2dfdb"/>
<rect x="649.15" y="1208.50" width="7.7" height="4.11" fill="#ff5252"/>
<rect x="658.15" y="1208.50" width="7.7" height="9.33" fill="#ff5252"/>
<rect x="667.15" y="1208.50" width="7.7" height="9.34" fill="#ffcdd2"/>
<rect x="676.15" y="1204.23" width="7.7" height="4.27" fill="#26a69a"/>
<rect x="685.15" y="1195.76" width="7.7" height="12.74" fill="#26a69a"/>
<rect x="694.15" y="1190.25" width="7.7" height="18.25" fill="#26a69a"/>
<rect x="703.15" y="1187.97" width="7.7" height="20.53" fill="#26a69a"/>
<rect x="712.15" y="1180.16" width="7.7" height="28.34" fill="#26a69a"/>
<rect x="721.15" y="1159.42" width="7.7" height="49.08" fill="#26a69a"/>
<rect x="730.15" y="1151.21" width="7.7" height="57.29" fill="#26a69a"/>
<rect x="739.15" y="1144.80" width="7.7" height="63.70" fill="#26a69a"/>
<rect x="748.15" y="1151.81" width="7.7" height="56.69" fill="#b2dfdb"/>
<rect x="757.15" y="1152.30" width="7.7" height="56.20" fill="#b2dfdb"/>
<rect x="766.15" y="1157.79" width="7.7" height="50.71" fill="#b2dfdb"/>
<rect x="775.15" y="1166.91" width="7.7" height="41.59" fill="#b2dfdb"/>
<rect x="784.15" y="1175.03" width="7.7" height="33.47" fill="#b2dfdb"/>
<rect x="793.15" y="1179.29" width="7.7" height="29.21" fill="#b2dfdb"/>
<rect x="802.15" y="1180.99" width="7.7" height="27.51" fill="#b2dfdb"/>
<rect x="811.15" y="1176.45" width="7.7" height="32.05" fill="#26a69a"/>
<rect x="820.15" y="1175.87" width="7.7" height="32.63" fill="#26a69a"/>
<rect x="829.15" y="1181.76" width="7.7" height="26.74" fill="#b2dfdb"/>
<rect x="838.15" y="1188.30" width="7.7" height="20.20" fill="#b2dfdb"/>
<rect x="847.15" y="1206.17" width="7.7" height="2.33" fill="#b2dfdb"/>
<rect x="856.15" y="1208.50" width="7.7" height="13.23" fill="#ff5252"/>
<rect x="865.15" y="1208.50" width="7.7" height="15.73" fill="#ff5252"/>
<rect x="874.15" y="1208.50" width="7.7" height="18.91" fill="#ff5252"/>
<rect x="883.15" y="1208.50" width="7.7" height="17.83" fill="#ffcdd2"/>
<rect x="892.15" y="1208.50" width="7.7" height="20.30" fill="#ff5252"/>
<rect x="901.15" y="1208.50" width="7.7" height="20.92" fill="#ff5252"/>
<rect x="910.15" y="1208.50" width="7.7" height="24.93" fill="#ff5252"/>
<rect x="919.15" y="1208.50" width="7.7" height="27.77" fill="#ff5252"/>
<rect x="928.15" y="1208.50" width="7.7" height="23.73" fill="#ffcdd2"/>
<rect x="937.15" y="1208.50" width="7.7" height="25.13" fill="#ff5252"/>
<rect x="946.15" y="1208.50" width="7.7" height="20.10" fill="#ffcdd2"/>
<rect x="955.15" y="1208.50" width="7.7" height="17.20" fill="#ffcdd2"/>
<rect x="964.15" y="1208.50" width="7.7" height="13.12" fill="#ffcdd2"/>
<rect x="973.15" y="1208.50" width="7.7" height="19.63" fill="#ff5252"/>
<rect x="982.15" y="1208.50" width="7.7" height="25.54" fill="#ff5252"/>
<rect x="991.15" y="1208.50" width="7.7" height="19.29" fill="#ffcdd2"/>
<rect x="1000.15" y="1208.50" width="7.7" height="18.13" fill="#ffcdd2"/>
<rect x="1009.15" y="1208.50" width="7.7" height="14.56" fill="#ffcdd2"/>
<rect x="1018.15" y="1208.50" width="7.7" height="12.74" fill="#ffcdd2"/>
<rect x="1027.15" y="1208.50" width="7.7" height="5.40" fill="#ffcdd2"/>
<rect x="1036.15" y="1206.70" width="7.7" height="1.80" fill="#26a69a"/>
<rect x="1045.15" y="1203.28" width="7.7" height="5.22" fill="#26a69a"/>
<rect x="1054.15" y="1208.50" width="7.7" height="7.18" fill="#ff5252"/>
<rect x="1063.15" y="1208.50" width="7.7" height="21.53" fill="#ff5252"/>
<rect x="1072.15" y="1208.50" width="7.7" height="29.72" fill="#ff5252"/>
<rect x="1081.15" y="1208.50" width="7.7" height="35.41" fill="#ff5252"/>
<rect x="1090.15" y="1208.50" width="7.7" height="42.73" fill="#ff5252"/>
<rect x="1099.15" y="1208.50" width="7.7" height="46.56" fill="#ff5252"/>
<rect x="1108.15" y="1208.50" width="7.7" height="38.90" fill="#ffcdd2"/>
<rect x="1117.15" y="1208.50" width="7.7" height="31.13" fill="#ffcdd2"/>
<rect x="1126.15" y="1208.50" width="7.7" height="33.13" fill="#ff5252"/>
<rect x="1135.15" y="1208.50" width="7.7" height="36.41" fill="#ff5252"/>
<rect x="1144.15" y="1208.50" width="7.7" height="34.82" fill="#ffcdd2"/>
<rect x="1153.15" y="1208.50" width="7.7" height="35.79" fill="#ff5252"/>
<rect x="1162.15" y="1208.50" width="7.7" height="36.75" fill="#ff5252"/>
<rect x="1171.15" y="1208.50" width="7.7" height="33.93" fill="#ffcdd2"/>
<rect x="1180.15" y="1208.50" width="7.7" height="28.32" fill="#ffcdd2"/>
<rect x="1189.15" y="1208.50" width="7.7" height="18.02" fill="#ffcdd2"/>
<rect x="1198.15" y="1208.50" width="7.7" height="8.08" fill="#ffcdd2"/>
<rect x="1207.15" y="1208.50" width="7.7" height="1.29" fill="#ffcdd2"/>
<rect x="1216.15" y="1205.06" width="7.7" height="3.44" fill="#26a69a"/>
<rect x="1225.15" y="1193.91" width="7.7" height="14.59" fill="#26a69a"/>
<rect x="1234.15" y="1199.22" width="7.7" height="9.28" fill="#b2dfdb"/>
<rect x="1243.15" y="1207.24" width="7.7" height="1.26" fill="#b2dfdb"/>
<rect x="1252.15" y="1208.50" width="7.7" height="9.35" fill="#ff5252"/>
<rect x="1261.15" y="1208.50" width="7.7" height="10.69" fill="#ff5252"/>
<rect x="1270.15" y="1208.50" width="7.7" height="11.28" fill="#ff5252"/>
<rect x="1279.15" y="1208.50" width="7.7" height="11.16" fill="#ffcdd2"/>
<rect x="1288.15" y="1208.50" width="7.7" height="10.45" fill="#ffcdd2"/>
<rect x="1297.15" y="1208.50" width="7.7" height="4.96" fill="#ffcdd2"/>
<rect x="1306.15" y="1201.02" width="7.7" height="7.48" fill="#26a69a"/>
<rect x="1315.15" y="1194.69" width="7.7" height="13.81" fill="#26a69a"/>
<rect x="1324.15" y="1182.47" width="7.7" height="26.03" fill="#26a69a"/>
<rect x="1333.15" y="1175.18" width="7.7" height="33.32" fill="#26a69a"/>
<rect x="1342.15" y="1179.45" width="7.7" height="29.05" fill="#b2dfdb"/>
<rect x="1351.15" y="1181.85" width="7.7" height="26.65" fill="#b2dfdb"/>
<rect x="1360.15" y="1176.40" width="7.7" height="32.10" fill="#26a69a"/>
<rect x="1369.15" y="1180.30" width="7.7" height="28.20" fill="#b2dfdb"/>
<rect x="1378.15" y="1184.11" width="7.7" height="24.39" fill="#b2dfdb"/>
<rect x="1387.15" y="1186.11" width="7.7" height="22.39" fill="#b2dfdb"/>
<rect x="1396.15" y="1189.29" width="7.7" height="19.21" fill="#b2dfdb"/>
<rect x="1405.15" y="1197.46" width="7.7" height="11.04" fill="#b2dfdb"/>
<rect x="1414.15" y="1204.84" width="7.7" height="3.66" fill="#b2dfdb"/>
<rect x="1423.15" y="1208.50" width="7.7" height="3.31" fill="#ff5252"/>
<rect x="1432.15" y="1208.50" width="7.7" height="2.85" fill="#ffcdd2"/>
<rect x="1441.15" y="1208.50" width="7.7" height="0.75" fill="#ffcdd2"/>
<rect x="1450.15" y="1208.50" width="7.7" height="4.90" fill="#ff5252"/>
<rect x="1459.15" y="1208.50" width="7.7" height="11.64" fill="#ff5252"/>
<rect x="1468.15" y="1208.50" width="7.7" height="22.17" fill="#ff5252"/>
<rect x="1477.15" y="1208.50" width="7.7" height="20.11" fill="#ffcdd2"/>
<rect x="1486.15" y="1208.50" width="7.7" height="26.00" fill="#ff5252"/>
<rect x="1495.15" y="1208.50" width="7.7" height="31.10" fill="#ff5252"/>
<rect x="1504.15" y="1208.50" width="7.7" height="33.07" fill="#ff5252"/>
<rect x="1513.15" y="1208.50" width="7.7" height="32.84" fill="#ffcdd2"/>
<rect x="1522.15" y="1208.50" width="7.7" height="31.23" fill="#ffcdd2"/>
<rect x="1531.15" y="1208.50" width="7.7" height="28.62" fill="#ffcdd2"/>
<rect x="1540.15" y="1208.50" width="7.7" height="23.35" fill="#ffcdd2"/>
<rect x="1549.15" y="1208.50" width="7.7" height="22.28" fill="#ffcdd2"/>
<rect x="1558.15" y="1208.50" width="7.7" height="15.70" fill="#ffcdd2"/>
<rect x="1567.15" y="1208.50" width="7.7" height="13.36" fill="#ffcdd2"/>
<rect x="1576.15" y="1208.50" width="7.7" height="9.02" fill="#ffcdd2"/>
<rect x="1585.15" y="1208.50" width="7.7" height="5.53" fill="#ffcdd2"/>
<rect x="1594.15" y="1208.50" width="7.7" height="5.99" fill="#ff5252"/>
<rect x="1603.15" y="1208.50" width="7.7" height="6.47" fill="#ff5252"/>
<rect x="1612.15" y="1208.50" width="7.7" height="6.42" fill="#ffcdd2"/>
<rect x="1621.15" y="1208.50" width="7.7" height="3.57" fill="#ffcdd2"/>
<rect x="1630.15" y="1206.21" width="7.7" height="2.29" fill="#26a69a"/>
<rect x="1639.15" y="1207.07" width="7.7" height="1.43" fill="#b2dfdb"/>
<rect x="1648.15" y="1206.61" width="7.7" height="1.89" fill="#26a69a"/>
<rect x="1657.15" y="1206.78" width="7.7" height="1.72" fill="#b2dfdb"/>
<rect x="1666.15" y="1208.50" width="7.7" height="8.44" fill="#ff5252"/>
<rect x="1675.15" y="1208.50" width="7.7" height="20.30" fill="#ff5252"/>
<rect x="1684.15" y="1208.50" width="7.7" height="36.05" fill="#ff5252"/>
<rect x="1693.15" y="1208.50" width="7.7" height="42.61" fill="#ff5252"/>
<rect x="1702.15" y="1208.50" width="7.7" height="44.76" fill="#ff5252"/>
<rect x="1711.15" y="1208.50" width="7.7" height="39.34" fill="#ffcdd2"/>
<rect x="1720.15" y="1208.50" width="7.7" height="15.31" fill="#ffcdd2"/>
<rect x="1729.15" y="1208.50" width="7.7" height="16.29" fill="#ff5252"/>
<rect x="1738.15" y="1208.50" width="7.7" height="13.05" fill="#ffcdd2"/>
<rect x="1747.15" y="1208.50" width="7.7" height="2.16" fill="#ffcdd2"/>
<rect x="1756.15" y="1204.35" width="7.7" height="4.15" fill="#26a69a"/>
<rect x="1765.15" y="1206.72" width="7.7" height="1.78" fill="#b2dfdb"/>
<rect x="1774.15" y="1208.50" width="7.7" height="0.25" fill="#ff5252"/>
<rect x="1783.15" y="1208.50" width="7.7" height="12.72" fill="#ff5252"/>
<rect x="1792.15" y="1208.50" width="7.7" height="23.75" fill="#ff5252"/>
<rect x="1801.15" y="1208.50" width="7.7" height="18.94" fill="#ffcdd2"/>
<rect x="1810.15" y="1208.50" width="7.7" height="12.42" fill="#ffcdd2"/>
<rect x="1819.15" y="1208.50" width="7.7" height="12.41" fill="#ffcdd2"/>
<rect x="1828.15" y="1208.50" width="7.7" height="4.44" fill="#ffcdd2"/>
<rect x="1837.15" y="1205.88" width="7.7" height="2.62" fill="#26a69a"/>
<rect x="1846.15" y="1204.62" width="7.7" height="3.88" fill="#26a69a"/>
<rect x="1855.15" y="1199.82" width="7.7" height="8.68" fill="#26a69a"/>
<rect x="1864.15" y="1199.26" width="7.7" height="9.24" fill="#26a69a"/>
<rect x="1873.15" y="1189.27" width="7.7" height="19.23" fill="#26a69a"/>
<rect x="1882.15" y="1188.88" width="7.7" height="19.62" fill="#26a69a"/>
<rect x="1891.15" y="1189.17" width="7.7" height="19.33" fill="#b2dfdb"/>
<rect x="1900.15" y="1190.14" width="7.7" height="18.36" fill="#b2dfdb"/>
<rect x="1909.15" y="1186.05" width="7.7" height="22.45" fill="#26a69a"/>
<rect x="1918.15" y="1180.85" width="7.7" height="27.65" fill="#26a69a"/>
<rect x="1927.15" y="1178.62" width="7.7" height="29.88" fill="#26a69a"/>
<rect x="1936.15" y="1179.28" width="7.7" height="29.22" fill="#b2dfdb"/>
<rect x="1945.15" y="1179.93" width="7.7" height="28.57" fill="#b2dfdb"/>
<rect x="1954.15" y="1187.59" width="7.7" height="20.91" fill="#b2dfdb"/>
<rect x="1963.15" y="1196.98" width="7.7" height="11.52" fill="#b2dfdb"/>
<rect x="1972.15" y="1203.61" width="7.7" height="4.89" fill="#b2dfdb"/>
<rect x="1981.15" y="1207.35" width="7.7" height="1.15" fill="#b2dfdb"/>
<rect x="1990.15" y="1203.63" width="7.7" height="4.87" fill="#26a69a"/>
<rect x="1999.15" y="1207.06" width="7.7" height="1.44" fill="#b2dfdb"/>
<rect x="2008.15" y="1207.36" width="7.7" height="1.14" fill="#b2dfdb"/>
<rect x="2017.15" y="1205.73" width="7.7" height="2.77" fill="#26a69a"/>
<rect x="2026.15" y="1205.28" width="7.7" height="3.22" fill="#26a69a"/>
<rect x="2035.15" y="1208.50" width="7.7" height="7.57" fill="#ff5252"/>
<rect x="2044.15" y="1208.50" width="7.7" height="11.92" fill="#ff5252"/>
<rect x="2053.15" y="1208.50" width="7.7" height="19.99" fill="#ff5252"/>
<rect x="2062.15" y="1208.50" width="7.7" height="9.75" fill="#ffcdd2"/>
<rect x="2071.15" y="1208.50" width="7.7" height="3.63" fill="#ffcdd2"/>
</g>
<line x1="16" x2="2169.0" y1="1208.5" y2="1208.5" stroke="#a6a9b0" stroke-width="1" stroke-dasharray="5 5.97" stroke-dashoffset="6.57" shape-rendering="crispEdges"/>
<g clip-path="url(#cp)">
<polyline points="13.45,1206.62 22.45,1197.73 31.45,1194.74 40.45,1201.74 49.45,1208.39 58.45,1212.69 67.45,1216.66 76.45,1220.12 85.45,1227.30 94.45,1227.74 103.45,1232.30 112.45,1234.30 121.45,1240.19 130.45,1250.74 139.45,1257.99 148.45,1261.01 157.45,1257.02 166.45,1251.76 175.45,1247.89 184.45,1242.22 193.45,1230.98 202.45,1223.29 211.45,1219.51 220.45,1218.83 229.45,1212.35 238.45,1203.45 247.45,1193.29 256.45,1184.81 265.45,1178.02 274.45,1172.46 283.45,1169.13 292.45,1164.45 301.45,1164.34 310.45,1159.25 319.45,1154.21 328.45,1150.62 337.45,1149.12 346.45,1154.99 355.45,1166.94 364.45,1177.17 373.45,1185.25 382.45,1188.25 391.45,1190.90 400.45,1190.94 409.45,1192.90 418.45,1194.79 427.45,1200.57 436.45,1206.02 445.45,1204.26 454.45,1201.21 463.45,1199.80 472.45,1190.07 481.45,1179.97 490.45,1170.86 499.45,1164.66 508.45,1157.52 517.45,1152.70 526.45,1147.86 535.45,1149.22 544.45,1150.79 553.45,1154.76 562.45,1154.35 571.45,1158.67 580.45,1161.58 589.45,1161.88 598.45,1157.31 607.45,1146.82 616.45,1140.32 625.45,1141.58 634.45,1145.49 643.45,1149.64 652.45,1155.10 661.45,1162.66 670.45,1165.00 679.45,1150.32 688.45,1138.66 697.45,1128.60 706.45,1121.19 715.45,1106.29 724.45,1073.27 733.45,1050.75 742.45,1028.42 751.45,1021.25 760.45,1007.69 769.45,1000.51 778.45,999.23 787.45,998.98 796.45,995.94 805.45,990.76 814.45,978.20 823.45,969.47 832.45,968.67 841.45,970.17 850.45,987.45 859.45,1006.32 868.45,1012.75 877.45,1020.66 886.45,1024.03 895.45,1031.59 904.45,1037.43 913.45,1047.67 922.45,1057.45 931.45,1059.35 940.45,1067.03 949.45,1067.03 958.45,1068.42 967.45,1067.62 976.45,1079.04 985.45,1091.33 994.45,1089.91 1003.45,1093.28 1012.45,1093.35 1021.45,1094.71 1030.45,1088.72 1039.45,1081.07 1048.45,1076.35 1057.45,1090.54 1066.45,1110.28 1075.45,1125.89 1084.45,1140.44 1093.45,1158.44 1102.45,1173.91 1111.45,1175.98 1120.45,1175.99 1129.45,1186.27 1138.45,1198.65 1147.45,1205.76 1156.45,1215.69 1165.45,1225.83 1174.45,1231.49 1183.45,1232.96 1192.45,1227.17 1201.45,1219.25 1210.45,1212.78 1219.45,1207.20 1228.45,1192.39 1237.45,1195.38 1246.45,1203.09 1255.45,1216.04 1264.45,1220.05 1273.45,1223.45 1282.45,1226.13 1291.45,1228.03 1300.45,1223.78 1309.45,1209.48 1318.45,1199.70 1327.45,1180.97 1336.45,1165.35 1345.45,1162.36 1354.45,1158.09 1363.45,1144.62 1372.45,1141.46 1381.45,1139.17 1390.45,1135.58 1399.45,1133.95 1408.45,1139.36 1417.45,1145.83 1426.45,1153.63 1435.45,1153.88 1444.45,1151.96 1453.45,1157.34 1462.45,1166.99 1471.45,1183.06 1480.45,1186.04 1489.45,1198.42 1498.45,1211.30 1507.45,1221.54 1516.45,1229.52 1525.45,1235.71 1534.45,1240.25 1543.45,1240.82 1552.45,1245.33 1561.45,1242.67 1570.45,1243.66 1579.45,1241.59 1588.45,1239.48 1597.45,1241.43 1606.45,1243.53 1615.45,1245.09 1624.45,1243.13 1633.45,1236.69 1642.45,1237.20 1651.45,1236.26 1660.45,1236.00 1669.45,1248.27 1678.45,1265.21 1687.45,1289.98 1696.45,1307.19 1705.45,1320.52 1714.45,1324.94 1723.45,1304.74 1732.45,1309.79 1741.45,1309.82 1750.45,1299.46 1759.45,1292.11 1768.45,1294.04 1777.45,1296.13 1786.45,1311.79 1795.45,1328.75 1804.45,1328.67 1813.45,1325.26 1822.45,1328.35 1831.45,1321.49 1840.45,1313.78 1849.45,1311.54 1858.45,1304.58 1867.45,1301.71 1876.45,1286.90 1885.45,1281.62 1894.45,1277.07 1903.45,1273.45 1912.45,1263.75 1921.45,1251.63 1930.45,1241.93 1939.45,1235.29 1948.45,1228.80 1957.45,1231.23 1966.45,1237.74 1975.45,1243.15 1984.45,1246.60 1993.45,1241.67 2002.45,1244.74 2011.45,1244.75 2020.45,1242.43 2029.45,1241.17 2038.45,1253.85 2047.45,1261.19 2056.45,1274.25 2065.45,1266.45 2074.45,1261.24" fill="none" stroke="#2962ff" stroke-width="1.6" stroke-linejoin="round"/>
<polyline points="13.45,1230.93 22.45,1224.29 31.45,1218.38 40.45,1215.05 49.45,1213.72 58.45,1213.51 67.45,1214.14 76.45,1215.34 85.45,1217.73 94.45,1219.73 103.45,1222.25 112.45,1224.66 121.45,1227.76 130.45,1232.36 139.45,1237.49 148.45,1242.19 157.45,1245.16 166.45,1246.48 175.45,1246.76 184.45,1245.85 193.45,1242.88 202.45,1238.96 211.45,1235.07 220.45,1231.82 229.45,1227.93 238.45,1223.03 247.45,1217.08 256.45,1210.63 265.45,1204.11 274.45,1197.78 283.45,1192.05 292.45,1186.53 301.45,1182.09 310.45,1177.52 319.45,1172.86 328.45,1168.41 337.45,1164.55 346.45,1162.64 355.45,1163.50 364.45,1166.23 373.45,1170.04 382.45,1173.68 391.45,1177.12 400.45,1179.89 409.45,1182.49 418.45,1184.95 427.45,1188.07 436.45,1191.66 445.45,1194.18 454.45,1195.59 463.45,1196.43 472.45,1195.16 481.45,1192.12 490.45,1187.87 499.45,1183.23 508.45,1178.08 517.45,1173.01 526.45,1167.98 535.45,1164.23 544.45,1161.54 553.45,1160.18 562.45,1159.02 571.45,1158.95 580.45,1159.47 589.45,1159.96 598.45,1159.43 607.45,1156.91 616.45,1153.59 625.45,1151.19 634.45,1150.05 643.45,1149.96 652.45,1150.99 661.45,1153.33 670.45,1155.66 679.45,1154.59 688.45,1151.41 697.45,1146.84 706.45,1141.71 715.45,1134.63 724.45,1122.36 733.45,1108.04 742.45,1092.11 751.45,1077.94 760.45,1063.89 769.45,1051.21 778.45,1040.82 787.45,1032.45 796.45,1025.15 805.45,1018.27 814.45,1010.26 823.45,1002.10 832.45,995.42 841.45,990.37 850.45,989.78 859.45,993.09 868.45,997.02 877.45,1001.75 886.45,1006.21 895.45,1011.28 904.45,1016.51 913.45,1022.74 922.45,1029.68 931.45,1035.62 940.45,1041.90 949.45,1046.93 958.45,1051.23 967.45,1054.50 976.45,1059.41 985.45,1065.80 994.45,1070.62 1003.45,1075.15 1012.45,1078.79 1021.45,1081.98 1030.45,1083.32 1039.45,1082.87 1048.45,1081.57 1057.45,1083.36 1066.45,1088.75 1075.45,1096.18 1084.45,1105.03 1093.45,1115.71 1102.45,1127.35 1111.45,1137.08 1120.45,1144.86 1129.45,1153.14 1138.45,1162.24 1147.45,1170.95 1156.45,1179.89 1165.45,1189.08 1174.45,1197.56 1183.45,1204.64 1192.45,1209.15 1201.45,1211.17 1210.45,1211.49 1219.45,1210.63 1228.45,1206.98 1237.45,1204.66 1246.45,1204.35 1255.45,1206.69 1264.45,1209.36 1273.45,1212.18 1282.45,1214.97 1291.45,1217.58 1300.45,1218.82 1309.45,1216.95 1318.45,1213.50 1327.45,1206.99 1336.45,1198.67 1345.45,1191.40 1354.45,1184.74 1363.45,1176.72 1372.45,1169.67 1381.45,1163.57 1390.45,1157.97 1399.45,1153.17 1408.45,1150.40 1417.45,1149.49 1426.45,1150.32 1435.45,1151.03 1444.45,1151.22 1453.45,1152.44 1462.45,1155.35 1471.45,1160.89 1480.45,1165.92 1489.45,1172.42 1498.45,1180.20 1507.45,1188.46 1516.45,1196.67 1525.45,1204.48 1534.45,1211.64 1543.45,1217.47 1552.45,1223.04 1561.45,1226.97 1570.45,1230.31 1579.45,1232.56 1588.45,1233.95 1597.45,1235.45 1606.45,1237.06 1615.45,1238.67 1624.45,1239.56 1633.45,1238.99 1642.45,1238.63 1651.45,1238.16 1660.45,1237.73 1669.45,1239.83 1678.45,1244.91 1687.45,1253.92 1696.45,1264.58 1705.45,1275.77 1714.45,1285.60 1723.45,1289.43 1732.45,1293.50 1741.45,1296.76 1750.45,1297.30 1759.45,1296.26 1768.45,1295.82 1777.45,1295.88 1786.45,1299.06 1795.45,1305.00 1804.45,1309.74 1813.45,1312.84 1822.45,1315.94 1831.45,1317.05 1840.45,1316.40 1849.45,1315.43 1858.45,1313.26 1867.45,1310.95 1876.45,1306.14 1885.45,1301.23 1894.45,1296.40 1903.45,1291.81 1912.45,1286.20 1921.45,1279.29 1930.45,1271.82 1939.45,1264.51 1948.45,1257.37 1957.45,1252.14 1966.45,1249.26 1975.45,1248.04 1984.45,1247.75 1993.45,1246.54 2002.45,1246.18 2011.45,1245.89 2020.45,1245.20 2029.45,1244.39 2038.45,1246.28 2047.45,1249.26 2056.45,1254.26 2065.45,1256.70 2074.45,1257.61" fill="none" stroke="#ff6d00" stroke-width="1.6" stroke-linejoin="round"/>
</g>
<rect x="16" y="923" width="2269" height="1.2" fill="#e0e3eb"/>
<rect x="15" y="41" width="2271" height="1366" fill="none" stroke="#f3f3f4" stroke-width="2"/>
<g clip-path="url(#ca)">
<text x="2183.6" y="53.1" font-size="17.3" fill="#131722" stroke="#131722" stroke-width="0.3" textLength="87.6" lengthAdjust="spacingAndGlyphs" >112,000.00</text>
<text x="2183.6" y="109.1" font-size="17.3" fill="#131722" stroke="#131722" stroke-width="0.3" textLength="87.6" lengthAdjust="spacingAndGlyphs" >108,000.00</text>
<text x="2183.6" y="164.1" font-size="17.3" fill="#131722" stroke="#131722" stroke-width="0.3" textLength="87.6" lengthAdjust="spacingAndGlyphs" >104,000.00</text>
<text x="2183.6" y="219.1" font-size="17.3" fill="#131722" stroke="#131722" stroke-width="0.3" textLength="87.6" lengthAdjust="spacingAndGlyphs" >100,000.00</text>
<text x="2183.6" y="275.1" font-size="17.3" fill="#131722" stroke="#131722" stroke-width="0.3" textLength="78.0" lengthAdjust="spacingAndGlyphs" >96,000.00</text>
<text x="2183.6" y="330.1" font-size="17.3" fill="#131722" stroke="#131722" stroke-width="0.3" textLength="78.0" lengthAdjust="spacingAndGlyphs" >92,000.00</text>
<text x="2183.6" y="385.1" font-size="17.3" fill="#131722" stroke="#131722" stroke-width="0.3" textLength="78.0" lengthAdjust="spacingAndGlyphs" >88,000.00</text>
<text x="2183.6" y="440.1" font-size="17.3" fill="#131722" stroke="#131722" stroke-width="0.3" textLength="78.0" lengthAdjust="spacingAndGlyphs" >84,000.00</text>
<text x="2183.6" y="496.1" font-size="17.3" fill="#131722" stroke="#131722" stroke-width="0.3" textLength="78.0" lengthAdjust="spacingAndGlyphs" >80,000.00</text>
<text x="2183.6" y="551.1" font-size="17.3" fill="#131722" stroke="#131722" stroke-width="0.3" textLength="78.0" lengthAdjust="spacingAndGlyphs" >76,000.00</text>
<text x="2183.6" y="606.1" font-size="17.3" fill="#131722" stroke="#131722" stroke-width="0.3" textLength="78.0" lengthAdjust="spacingAndGlyphs" >72,000.00</text>
<text x="2183.6" y="662.1" font-size="17.3" fill="#131722" stroke="#131722" stroke-width="0.3" textLength="78.0" lengthAdjust="spacingAndGlyphs" >68,000.00</text>
<text x="2183.6" y="717.1" font-size="17.3" fill="#131722" stroke="#131722" stroke-width="0.3" textLength="78.0" lengthAdjust="spacingAndGlyphs" >64,000.00</text>
<text x="2183.6" y="772.1" font-size="17.3" fill="#131722" stroke="#131722" stroke-width="0.3" textLength="78.0" lengthAdjust="spacingAndGlyphs" >60,000.00</text>
<text x="2183.6" y="828.1" font-size="17.3" fill="#131722" stroke="#131722" stroke-width="0.3" textLength="78.0" lengthAdjust="spacingAndGlyphs" >56,000.00</text>
<text x="2183.6" y="883.1" font-size="17.3" fill="#131722" stroke="#131722" stroke-width="0.3" textLength="78.0" lengthAdjust="spacingAndGlyphs" >52,000.00</text>
<text x="2183.6" y="940.1" font-size="17.3" fill="#131722" stroke="#131722" stroke-width="0.3" textLength="68.3" lengthAdjust="spacingAndGlyphs" >8,000.00</text>
<text x="2183.6" y="1008.1" font-size="17.3" fill="#131722" stroke="#131722" stroke-width="0.3" textLength="68.3" lengthAdjust="spacingAndGlyphs" >6,000.00</text>
<text x="2183.6" y="1076.1" font-size="17.3" fill="#131722" stroke="#131722" stroke-width="0.3" textLength="68.3" lengthAdjust="spacingAndGlyphs" >4,000.00</text>
<text x="2183.6" y="1145.1" font-size="17.3" fill="#131722" stroke="#131722" stroke-width="0.3" textLength="68.3" lengthAdjust="spacingAndGlyphs" >2,000.00</text>
<text x="2183.6" y="1350.1" font-size="17.3" fill="#131722" stroke="#131722" stroke-width="0.3" textLength="77.8" lengthAdjust="spacingAndGlyphs" >−4,000.00</text>
</g>
<path d="M2170 449h96a3 3 0 0 1 3 3v42a3 3 0 0 1-3 3h-96z" fill="#6c5ae9"/>
<text x="2183.6" y="468.0" font-size="17.5" fill="#fff" textLength="78.2" lengthAdjust="spacingAndGlyphs" font-weight="bold" >82,068.00</text>
<text x="2183.6" y="488.5" font-size="17.5" fill="#e1dcfb" textLength="68.5" lengthAdjust="spacingAndGlyphs" font-weight="bold" >14:04:37</text>
<path d="M2170 887h75a3 3 0 0 1 3 3v21a3 3 0 0 1-3 3h-75z" fill="#ef5350"/>
<text x="2183.6" y="906.6" font-size="17.5" fill="#fff" textLength="57" lengthAdjust="spacingAndGlyphs" font-weight="bold" >10.61 K</text>
<path d="M2170 1199h81a3 3 0 0 1 3 3v21a3 3 0 0 1-3 3h-81z" fill="#ffcdd2"/>
<text x="2183.8" y="1218.6" font-size="17.3" fill="#131722" stroke="#131722" stroke-width="0.3" textLength="61.8" lengthAdjust="spacingAndGlyphs" >−105.00</text>
<path d="M2170 1244h96a3 3 0 0 1 3 3v24h-99z" fill="#ff6d00"/>
<text x="2183.8" y="1262.7" font-size="17.5" fill="#fff" textLength="76.5" lengthAdjust="spacingAndGlyphs" font-weight="bold" >−1,440.11</text>
<path d="M2170 1271h99v23a3 3 0 0 1-3 3h-96z" fill="#2962ff"/>
<text x="2183.8" y="1288.6" font-size="17.5" fill="#fff" textLength="76.5" lengthAdjust="spacingAndGlyphs" font-weight="bold" >−1,545.11</text>
<text x="27.4" y="69.6" font-size="17.5" fill="#131722" stroke="#131722" stroke-width="0.3" textLength="272.3" lengthAdjust="spacingAndGlyphs" >Bitcoin / TetherUS · 1D · BINANCE</text>
<text x="310.9" y="69.6" font-size="17.5" fill="#6b58ed" stroke="#6b58ed" stroke-width="0.3" textLength="79.1" lengthAdjust="spacingAndGlyphs" >82,068.00</text>
<text x="401.6" y="69.6" font-size="17.5" fill="#6b58ed" stroke="#6b58ed" stroke-width="0.3" textLength="136.3" lengthAdjust="spacingAndGlyphs" >−547.22 (−0.66%)</text>
<text x="27.4" y="95.6" font-size="17.5" fill="#131722" stroke="#131722" stroke-width="0.3" textLength="72.4" lengthAdjust="spacingAndGlyphs" >Vol · BTC</text>
<text x="111.7" y="95.6" font-size="17.5" fill="#ef5350" stroke="#ef5350" stroke-width="0.3" textLength="57.1" lengthAdjust="spacingAndGlyphs" >10.61 K</text>
<text x="27.2" y="953" font-size="17.5" fill="#131722" stroke="#131722" stroke-width="0.3" textLength="165.5" lengthAdjust="spacingAndGlyphs" >MACD (12, 26, close)</text>
<text x="204.9" y="953" font-size="17.5" fill="#ffcdd2" stroke="#ffcdd2" stroke-width="0.3" textLength="62.4" lengthAdjust="spacingAndGlyphs" >−105.00</text>
<text x="279.2" y="953" font-size="17.5" fill="#2962ff" stroke="#2962ff" stroke-width="0.3" textLength="76.7" lengthAdjust="spacingAndGlyphs" >−1,545.11</text>
<text x="369.4" y="953" font-size="17.5" fill="#ff6d00" stroke="#ff6d00" stroke-width="0.3" textLength="76.5" lengthAdjust="spacingAndGlyphs" >−1,440.11</text>
<text x="71.7" y="1392.4" font-size="17.5" fill="#131722" stroke="#131722" stroke-width="0.3" textLength="27.8" lengthAdjust="spacingAndGlyphs" >Sep</text>
<text x="341.8" y="1392.4" font-size="17.5" fill="#131722" stroke="#131722" stroke-width="0.3" textLength="27.2" lengthAdjust="spacingAndGlyphs" >Oct</text>
<text x="619.9" y="1392.4" font-size="17.5" fill="#131722" stroke="#131722" stroke-width="0.3" textLength="29.8" lengthAdjust="spacingAndGlyphs" >Nov</text>
<text x="890.1" y="1392.4" font-size="17.5" fill="#131722" stroke="#131722" stroke-width="0.3" textLength="28.9" lengthAdjust="spacingAndGlyphs" >Dec</text>
<text x="1163.9" y="1392.4" font-size="17.5" fill="#131722" textLength="39.5" lengthAdjust="spacingAndGlyphs" font-weight="bold" >2025</text>
<text x="1448.1" y="1392.4" font-size="17.5" fill="#131722" stroke="#131722" stroke-width="0.3" textLength="28.6" lengthAdjust="spacingAndGlyphs" >Feb</text>
<text x="1699.7" y="1392.4" font-size="17.5" fill="#131722" stroke="#131722" stroke-width="0.3" textLength="29.5" lengthAdjust="spacingAndGlyphs" >Mar</text>
<text x="1980.2" y="1392.4" font-size="17.5" fill="#131722" stroke="#131722" stroke-width="0.3" textLength="27.3" lengthAdjust="spacingAndGlyphs" >Apr</text>
<circle cx="2075.6" cy="903.4" r="16.8" fill="#fff"/>
<circle cx="2075.6" cy="903.4" r="14.8" fill="none" stroke="#9414a8" stroke-width="2"/>
<circle cx="2085.8" cy="893.2" r="6.2" fill="#fff"/>
<circle cx="2085.8" cy="893.2" r="3.7" fill="#f23645"/>
<polygon points="2079.8,895.6 2068.3,904.6 2074.3,904.2 2070.4,911.8 2082.8,902.0 2076.6,902.5" fill="#9414a8"/>
<g fill="#131722"><path d="M14.9 1425.3H26.7V1439.7H20.8V1430.9H14.9Z"/><circle cx="31.6" cy="1428.5" r="3.15"/><path d="M37.8 1425.3H44.1L38.4 1439.7H32.1Z"/></g>
<text x="49.8" y="1440.9" font-size="18.4" fill="#131722" stroke="#131722" stroke-width="0.3" textLength="105.5" lengthAdjust="spacingAndGlyphs" >TradingView</text>
</svg>
</body></html>
